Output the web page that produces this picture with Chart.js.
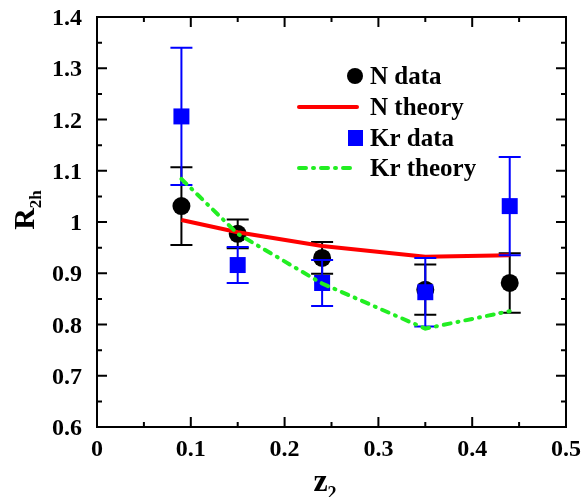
<!DOCTYPE html>
<html>
<head>
<meta charset="utf-8">
<script src="https://cdn.jsdelivr.net/npm/chart.js@4.4.0/dist/chart.umd.min.js"></script>
<style>
html,body{margin:0;padding:0;background:#fff;}
#wrap{width:585px;height:497px;position:relative;}
</style>
</head>
<body>
<div id="wrap"><canvas id="c" width="585" height="497"></canvas></div>
<script>
// ---- data ----
const zVals     = [0.09, 0.15, 0.24, 0.35, 0.44];
const nData     = [1.031, 0.977, 0.930, 0.868, 0.881];
const nErr      = [0.076, 0.028, 0.031, 0.049, 0.058];
const nTheory   = [1.004, 0.980, 0.953, 0.932, 0.935];
const krData    = [1.206, 0.916, 0.881, 0.863, 1.031];
const krErr     = [0.134, 0.035, 0.045, 0.067, 0.096];
const krTheory  = [1.084, 0.977, 0.880, 0.792, 0.826];
const xTicks    = [0, 0.1, 0.2, 0.3, 0.4, 0.5];
const yTicks    = [0.6, 0.7, 0.8, 0.9, 1.0, 1.1, 1.2, 1.3, 1.4];
const legendLabels = ['N data', 'N theory', 'Kr data', 'Kr theory'];

const FONT = '"Liberation Serif", "Times New Roman", serif';
const pts = (ys) => zVals.map((x, i) => ({x: x, y: ys[i]}));
const fmt = (v) => String(+Number(v).toFixed(2));

const errorBars = {
  id: 'errorBars',
  beforeDatasetDraw(chart, args) {
    const ds = chart.data.datasets[args.index];
    if (!ds.errors) return;
    const xs = chart.scales.x, ys = chart.scales.y, ctx = chart.ctx;
    ctx.save();
    ctx.strokeStyle = ds.errColor;
    ctx.lineWidth = 2;
    ds.data.forEach((p, i) => {
      const e = ds.errors[i];
      const px = xs.getPixelForValue(p.x);
      const top = ys.getPixelForValue(p.y + e);
      const bot = ys.getPixelForValue(p.y - e);
      ctx.beginPath();
      ctx.moveTo(px, top); ctx.lineTo(px, bot);
      ctx.moveTo(px - 11, top); ctx.lineTo(px + 11, top);
      ctx.moveTo(px - 11, bot); ctx.lineTo(px + 11, bot);
      ctx.stroke();
    });
    ctx.restore();
  }
};

const frame = {
  id: 'frame',
  afterDraw(chart) {
    const {ctx, chartArea: a, scales: {x, y}} = chart;
    ctx.save();
    ctx.strokeStyle = '#000';
    ctx.lineWidth = 2;
    ctx.strokeRect(a.left, a.top, a.right - a.left, a.bottom - a.top);
    ctx.beginPath();
    for (let v = 0; v <= 0.5001; v += 0.05) {
      const px = x.getPixelForValue(v);
      const major = Math.abs(v * 10 - Math.round(v * 10)) < 1e-6;
      const L = major ? 10 : 5;
      ctx.moveTo(px, a.bottom); ctx.lineTo(px, a.bottom - L);
      ctx.moveTo(px, a.top); ctx.lineTo(px, a.top + L);
    }
    for (let v = 0.6; v <= 1.4001; v += 0.05) {
      const py = y.getPixelForValue(v);
      const major = Math.abs(v * 10 - Math.round(v * 10)) < 1e-6;
      const L = major ? 10 : 5;
      ctx.moveTo(a.left, py); ctx.lineTo(a.left + L, py);
      ctx.moveTo(a.right, py); ctx.lineTo(a.right - L, py);
    }
    ctx.stroke();

    // tick labels
    ctx.fillStyle = '#000';
    ctx.font = 'bold 24px ' + FONT;
    ctx.textBaseline = 'alphabetic';
    ctx.textAlign = 'right';
    yTicks.forEach(v => ctx.fillText(fmt(v), a.left - 15, y.getPixelForValue(v) + 8));
    ctx.textAlign = 'center';
    xTicks.forEach(v => ctx.fillText(fmt(v), x.getPixelForValue(v), a.bottom + 29));

    // y title R_2h
    ctx.save();
    ctx.translate(34, 210);
    ctx.rotate(-Math.PI / 2);
    ctx.textAlign = 'left';
    ctx.font = 'bold 30px ' + FONT;
    const wR = ctx.measureText('R').width;
    ctx.font = 'bold 17px ' + FONT;
    const wS = ctx.measureText('2h').width;
    const start = -(wR + wS) / 2;
    ctx.font = 'bold 30px ' + FONT;
    ctx.fillText('R', start, 0);
    ctx.font = 'bold 17px ' + FONT;
    ctx.fillText('2h', start + wR, 7);
    ctx.restore();
    // x title z_2
    ctx.save();
    ctx.textAlign = 'left';
    ctx.font = 'bold 32px ' + FONT;
    const wz = ctx.measureText('z').width;
    ctx.font = 'bold 18px ' + FONT;
    const w2 = ctx.measureText('2').width;
    const sx = 325 - (wz + w2) / 2;
    ctx.font = 'bold 32px ' + FONT;
    ctx.fillText('z', sx, 491);
    ctx.font = 'bold 18px ' + FONT;
    ctx.fillText('2', sx + wz, 499);
    ctx.restore();

    // legend
    ctx.save();
    ctx.font = 'bold 25px ' + FONT;
    ctx.textAlign = 'left';
    const ds = chart.data.datasets;
    const tx = 370;
    const baselines = [84, 115, 146, 176];
    const symY = [76, 107, 138, 168];
    ctx.fillStyle = '#000';
    ctx.beginPath(); ctx.arc(355, symY[0], 8, 0, Math.PI * 2); ctx.fill();
    ctx.strokeStyle = ds[1].borderColor; ctx.lineWidth = 4; ctx.lineCap = 'round';
    ctx.beginPath(); ctx.moveTo(299, symY[1]); ctx.lineTo(357, symY[1]); ctx.stroke();
    ctx.fillStyle = ds[2].backgroundColor;
    ctx.fillRect(348, symY[2] - 8, 15, 16);
    ctx.strokeStyle = ds[3].borderColor; ctx.lineWidth = 4;
    ctx.setLineDash(ds[3].borderDash);
    ctx.beginPath(); ctx.moveTo(299, symY[3]); ctx.lineTo(357, symY[3]); ctx.stroke();
    ctx.setLineDash([]);
    ctx.fillStyle = '#000';
    legendLabels.forEach((t, i) => ctx.fillText(t, tx, baselines[i]));
    ctx.restore();
    ctx.restore();
  }
};

new Chart(document.getElementById('c'), {
  type: 'scatter',
  data: {
    datasets: [
      {label: legendLabels[0], data: pts(nData), errors: nErr, errColor: '#000',
       pointRadius: 9, pointHoverRadius: 9, pointStyle: 'circle',
       backgroundColor: '#000', borderColor: '#000', borderWidth: 0, showLine: false, order: 4},
      {label: legendLabels[1], data: pts(nTheory), showLine: true, pointRadius: 0,
       borderColor: '#ff0000', borderWidth: 4, backgroundColor: '#ff0000', order: 3},
      {label: legendLabels[2], data: pts(krData), errors: krErr, errColor: '#0000ff',
       pointRadius: 11.3, pointHoverRadius: 11.3, pointStyle: 'rect',
       backgroundColor: '#0000ff', borderColor: '#0000ff', borderWidth: 0, showLine: false, order: 2},
      {label: legendLabels[3], data: pts(krTheory), showLine: true, pointRadius: 0,
       borderColor: '#22ee22', borderWidth: 4, borderDash: [7, 7, 1, 7], borderCapStyle: 'round',
       backgroundColor: '#22ee22', order: 1}
    ]
  },
  options: {
    responsive: false,
    animation: false,
    events: [],
    layout: {padding: {left: 0, right: 19, top: 17, bottom: 0}},
    plugins: {legend: {display: false}, tooltip: {enabled: false}},
    scales: {
      x: {
        type: 'linear', min: 0, max: 0.5,
        afterBuildTicks: (s) => { s.ticks = xTicks.map(v => ({value: v})); },
        afterFit: (s) => { s.height = 70; s.paddingLeft = 0; s.paddingRight = 0; },
        grid: {display: false, drawTicks: false},
        border: {display: false},
        ticks: {display: false}
      },
      y: {
        type: 'linear', min: 0.6, max: 1.4,
        afterBuildTicks: (s) => { s.ticks = yTicks.map(v => ({value: v})); },
        afterFit: (s) => { s.width = 97; s.paddingTop = 0; s.paddingBottom = 0; },
        grid: {display: false, drawTicks: false},
        border: {display: false},
        ticks: {display: false}
      }
    }
  },
  plugins: [errorBars, frame]
});
</script>
</body>
</html>
